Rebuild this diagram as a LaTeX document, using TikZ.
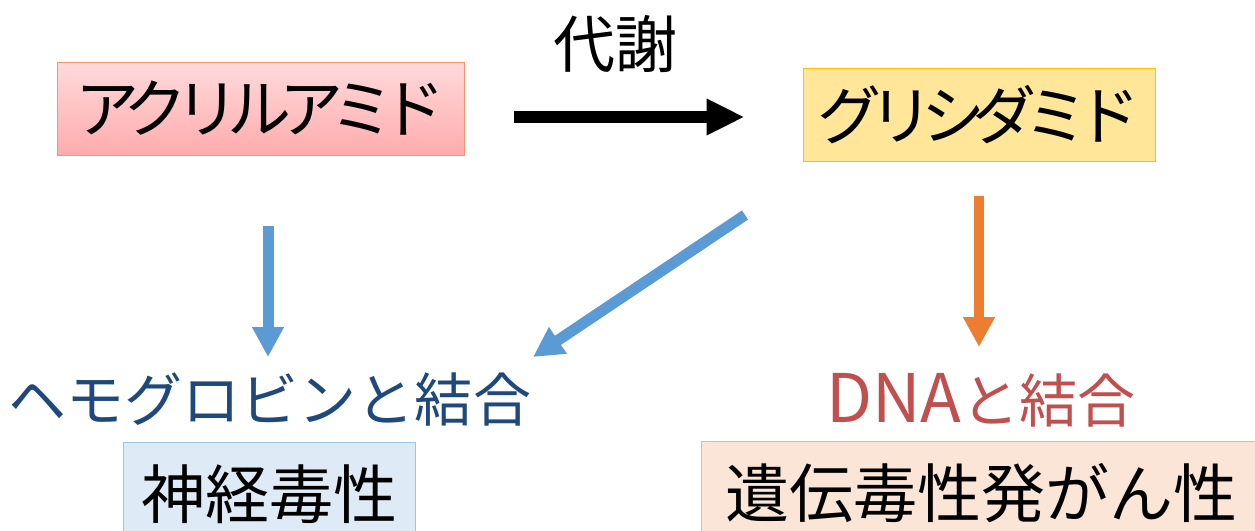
\documentclass[tikz,border=0pt]{standalone}
\usepackage{fontspec}
\setmainfont{Noto Sans CJK JP}
\newfontfamily\tightkana[LetterSpace=-19]{Noto Sans CJK JP}
\usetikzlibrary{arrows.meta,calc}
\definecolor{pinktop}{RGB}{255,218,220}
\definecolor{pinkbot}{RGB}{255,172,172}
\definecolor{pinkline}{RGB}{242,150,110}
\definecolor{yelfill}{RGB}{255,230,153}
\definecolor{yelline}{RGB}{255,192,0}
\definecolor{bluefill}{RGB}{222,235,247}
\definecolor{blueline}{RGB}{157,195,230}
\definecolor{peachfill}{RGB}{251,229,214}
\definecolor{peachline}{RGB}{244,177,131}
\definecolor{arrowblue}{RGB}{91,155,213}
\definecolor{arroworange}{RGB}{237,125,49}
\definecolor{hemoblue}{RGB}{31,73,125}
\definecolor{dnared}{RGB}{192,80,77}
\tikzset{
  boxnode/.style={rectangle, line width=1pt, inner sep=0pt, align=center},
  bigkana/.style={font=\tightkana\fontsize{64}{70}\selectfont},
  bigkanji/.style={font=\fontsize{64}{70}\selectfont},
  midtext/.style={font=\fontsize{58}{64}\selectfont},
  blackarrow/.style={line width=12pt, -{Triangle[length=38pt,width=34pt]}},
  bluearrow/.style={line width=11pt, draw=arrowblue, -{Triangle[length=30pt,width=30pt]}},
  orangearrow/.style={line width=10pt, draw=arroworange, -{Triangle[length=30pt,width=30pt]}}
}
\begin{document}
\begin{tikzpicture}[x=1pt,y=-1pt]
\useasboundingbox (0,0) rectangle (1255,530);
\node[boxnode, bigkana, draw=pinkline, top color=pinktop, bottom color=pinkbot,
  minimum width=407pt, minimum height=93pt] (acr) at (260.5,108.5) {アクリルアミド};
\node[boxnode, bigkana, draw=yelline, fill=yelfill,
  minimum width=352pt, minimum height=93pt] (gly) at (979,114.5) {グリシダミド};
\node[midtext, font=\fontsize{62}{66}\selectfont, inner sep=0pt] (met) at (615,44) {代謝};
\node[midtext, text=hemoblue, inner sep=0pt] (hemo) at (270,400) {ヘモグロビンと結合};
\node[midtext, text=dnared, inner sep=0pt] (dna) at (981,400) {{\fontsize{67}{70}\selectfont DNA}と結合};
\node[boxnode, bigkanji, draw=blueline, fill=bluefill,
  minimum width=292pt, minimum height=104pt] (neuro) at (269,494) {神経毒性};
\node[boxnode, bigkanji, draw=peachline, fill=peachfill,
  minimum width=560pt, minimum height=104pt] (geno) at (981,493) {遺伝毒性発がん性};
\draw[blackarrow] ($(acr.east)+(49,8.5)$) -- ($(gly.west)+(-58,2.5)$);
\draw[bluearrow] ($(acr.south)+(7.5,70)$) -- ($(hemo.center)+(-2,-43)$);
\draw[bluearrow] ($(gly.center)+(-234,100.5)$) -- ($(hemo.center)+(263,-43)$);
\draw[orangearrow] ($(gly.south)+(0,34)$) -- ($(dna.center)+(-2,-53)$);
\end{tikzpicture}
\end{document}
